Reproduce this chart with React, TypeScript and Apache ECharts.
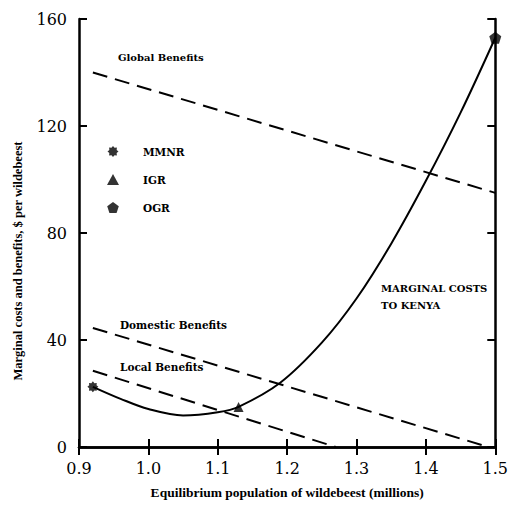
import React, { useEffect, useRef } from "react";
import * as echarts from "echarts";

const xTicks = [0.9, 1.0, 1.1, 1.2, 1.3, 1.4, 1.5];
const yTicks = [0, 40, 80, 120, 160];
const globalBenefits = [[0.92, 140], [1.5, 95]];
const domesticBenefits = [[0.92, 44.5], [1.49, 0]];
const localBenefits = [[0.92, 28.5], [1.27, 0]];
const marginalCosts = [
  [0.92, 22.5], [0.96, 18], [1.0, 14.2], [1.05, 11.8], [1.1, 13], [1.13, 15],
  [1.19, 24], [1.25, 39], [1.3, 55.5], [1.35, 76], [1.4, 99.5], [1.45, 125], [1.5, 153],
];
const mmnrPoint = [[0.92, 22.5]];
const igrPoint = [[1.13, 15]];
const ogrPoint = [[1.5, 153]];

function starPath() {
  const pts: string[] = [];
  const n = 16;
  for (let i = 0; i < n; i++) {
    const r = i % 2 === 0 ? 1 : 0.72;
    const a = (Math.PI * 2 * i) / n - Math.PI / 2;
    pts.push(`${(r * Math.cos(a)).toFixed(3)},${(r * Math.sin(a)).toFixed(3)}`);
  }
  return "path://M" + pts.join(" L") + " Z";
}
const STAR = starPath();
const PENT = "path://M0,-1 L0.951,-0.309 L0.588,0.809 L-0.588,0.809 L-0.951,-0.309 Z";
const SERIF = "Liberation Serif";
const WIDE = "DejaVu Serif";

export default function App() {
  const ref = useRef<HTMLDivElement>(null);
  useEffect(() => {
    const chart = echarts.init(ref.current!, null, { renderer: "svg" });
    const axisLine = { show: true, lineStyle: { color: "#000", width: 2.5 } };
    const tickIn = { show: true, inside: true, length: 8, lineStyle: { color: "#000", width: 2 } };
    const dashed = (data: number[][]) => ({
      type: "line",
      data,
      symbol: "none",
      lineStyle: { color: "#000", width: 2, type: [15, 8] },
      silent: true,
    });
    const note = (text: string, x: number, y: number, size = 10) => ({
      type: "text", x, y,
      style: { text, fill: "#000", font: `bold ${size}px "${WIDE}"`, textVerticalAlign: "middle" },
    });
    chart.setOption({
      animation: false,
      backgroundColor: "#fff",
      grid: { left: 79, right: 12, top: 19, bottom: 59, containLabel: false },
      xAxis: [
        {
          type: "value", min: 0.9, max: 1.5, interval: 0.1, position: "bottom",
          axisLine, axisTick: tickIn, splitLine: { show: false },
          axisLabel: {
            color: "#000", fontFamily: WIDE, fontSize: 16, margin: 13,
            formatter: (v: number) => xTicks.find((t) => Math.abs(t - v) < 1e-6)?.toFixed(1) ?? "",
          },
          name: "Equilibrium population of wildebeest (millions)",
          nameLocation: "middle", nameGap: 38,
          nameTextStyle: { color: "#000", fontFamily: SERIF, fontSize: 13.5, fontWeight: "bold" },
        },
        {
          type: "value", min: 0.9, max: 1.5, interval: 0.1, position: "top",
          axisLine, axisTick: tickIn, axisLabel: { show: false }, splitLine: { show: false },
        },
      ],
      yAxis: [
        {
          type: "value", min: 0, max: 160, interval: 40, position: "left",
          axisLine, axisTick: tickIn, splitLine: { show: false },
          axisLabel: {
            color: "#000", fontFamily: WIDE, fontSize: 16, margin: 12,
            formatter: (v: number) => (yTicks.includes(v) ? String(v) : ""),
          },
        },
        {
          type: "value", min: 0, max: 160, interval: 40, position: "right",
          axisLine, axisTick: tickIn, axisLabel: { show: false }, splitLine: { show: false },
        },
      ],
      legend: {
        data: ["MMNR", "IGR", "OGR"],
        orient: "vertical", left: 107, top: 146, padding: 0, itemGap: 17, itemWidth: 12, itemHeight: 11,
        textStyle: { color: "#000", fontFamily: WIDE, fontSize: 10.5, fontWeight: "bold", padding: [0, 0, 0, 19] },
        selectedMode: false,
      },
      graphic: [
        {
          type: "text", rotation: Math.PI / 2, x: 18, y: 261,
          style: {
            text: "Marginal costs and benefits, $ per wildebeest", fill: "#000",
            font: `bold 12.5px "${SERIF}"`, textAlign: "center", textVerticalAlign: "middle",
          },
        },
        note("Global Benefits", 118, 57),
        note("Domestic Benefits", 120, 325, 10.5),
        note("Local Benefits", 120, 367, 10.5),
        note("MARGINAL COSTS", 381, 288),
        note("TO KENYA", 381, 305),
      ],
      series: [
        { ...dashed(globalBenefits), name: "Global" },
        { ...dashed(domesticBenefits), name: "Domestic" },
        { ...dashed(localBenefits), name: "Local" },
        {
          name: "Marginal costs", type: "line", data: marginalCosts, smooth: 0.35,
          symbol: "none", lineStyle: { color: "#000", width: 2 }, silent: true,
        },
        { name: "MMNR", type: "scatter", data: mmnrPoint, symbol: STAR, symbolSize: 11, itemStyle: { color: "#000" }, z: 5 },
        { name: "IGR", type: "scatter", data: igrPoint, symbol: "triangle", symbolSize: 10, itemStyle: { color: "#000" }, z: 5 },
        { name: "OGR", type: "scatter", data: ogrPoint, symbol: PENT, symbolSize: 12, itemStyle: { color: "#000" }, z: 5 },
      ],
    });
    return () => chart.dispose();
  }, []);
  return <div ref={ref} style={{ position: "absolute", left: 0, top: 0, width: 511, height: 506 }} />;
}
